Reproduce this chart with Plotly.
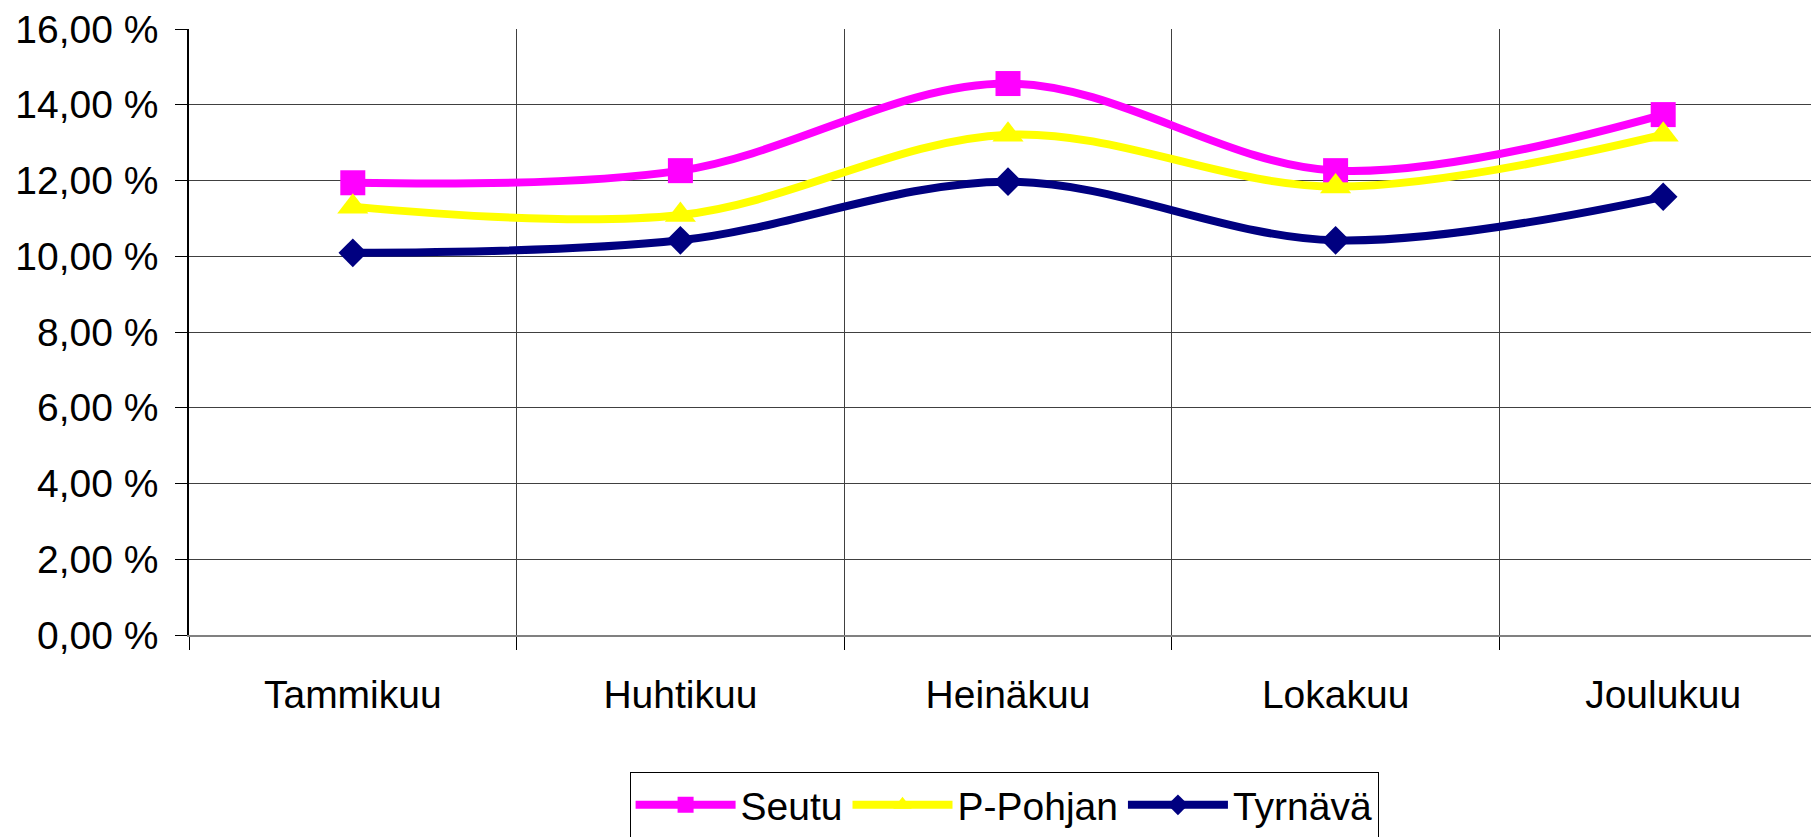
import plotly.graph_objects as go

months = ["Tammikuu", "Huhtikuu", "Heinäkuu", "Lokakuu", "Joulukuu"]
seutu = [11.94, 12.26, 14.56, 12.26, 13.74]
p_pohjan = [11.31, 11.09, 13.21, 11.84, 13.21]
tyrnava = [10.09, 10.42, 11.97, 10.42, 11.57]

series = [
    ("Seutu", seutu, "#FF00FF", "square", 25),
    ("P-Pohjan", p_pohjan, "#FFFF00", "triangle-up", 27),
    ("Tyrnävä", tyrnava, "#000080", "diamond", 22),
]

fig = go.Figure()
for name, vals, color, sym, size in series:
    fig.add_trace(go.Scatter(
        x=months, y=vals, name=name, mode="lines+markers",
        line=dict(color=color, width=8, shape="spline", smoothing=1.0),
        marker=dict(symbol=sym, size=size, color=color, line=dict(width=0)),
    ))

fig.update_layout(
    width=1819, height=837,
    margin=dict(l=181, r=0, t=21, b=210, autoexpand=False),
    paper_bgcolor="white", plot_bgcolor="white",
    font=dict(family="Liberation Sans, Arial, sans-serif", size=39, color="black"),
    separators=", ",
    showlegend=True,
    legend=dict(
        orientation="h", x=0.5476, xanchor="center", xref="container",
        y=1 - 764 / 837, yanchor="top", yref="container",
        bordercolor="black", borderwidth=1, bgcolor="white",
        font=dict(size=39), itemwidth=100, tracegroupgap=0,
    ),
)
fig.update_xaxes(
    type="category", tickson="boundaries", range=[-0.5, 4.5],
    showgrid=True, gridcolor="#404040", gridwidth=1,
    showline=True, linecolor="#808080", linewidth=2,
    ticks="outside", ticklen=13, tickcolor="black", tickwidth=1,
    ticklabelstandoff=24, zeroline=False, automargin=False,
)
fig.update_yaxes(
    range=[0, 16], dtick=2, tick0=0, tickformat=".2f", ticksuffix=" %",
    showgrid=True, gridcolor="#404040", gridwidth=1,
    showline=True, linecolor="black", linewidth=1.5,
    ticks="outside", ticklen=12, tickcolor="black", tickwidth=1,
    ticklabelstandoff=9, zeroline=False, automargin=False,
    ticklabeloverflow="allow",
)

fig.write_html("out.html")
